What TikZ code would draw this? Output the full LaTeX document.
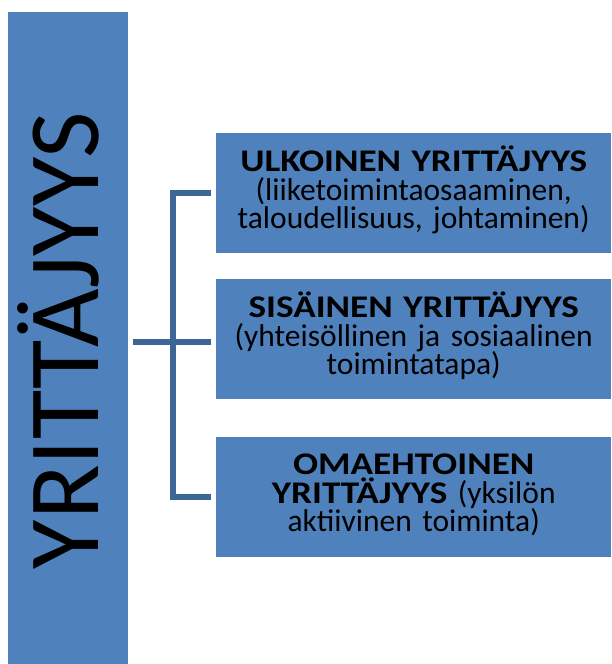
\documentclass[tikz,border=0pt]{standalone}
\usepackage{fontspec}
\setmainfont{Carlito}[BoldFeatures={FakeStretch=1.18}]
\definecolor{boxblue}{HTML}{4F81BD}
\definecolor{linkblue}{HTML}{3D6696}
\begin{document}
\begin{tikzpicture}[x=1pt,y=-1pt,
  titlebar/.style={fill=boxblue, draw=none, inner sep=0pt},
  itembox/.style={fill=boxblue, draw=none, inner sep=0pt,
    minimum width=395pt, minimum height=120pt},
  itemtext/.style={inner sep=0pt, align=center, text width=390pt,
    font=\fontsize{31.5}{28.5}\selectfont},
  conn/.style={draw=linkblue, line width=6pt}]
\useasboundingbox (0,0) rectangle (612,664);

% tall title bar on the left
\node[titlebar, minimum width=120pt, minimum height=652pt, anchor=north west] (main) at (8,12) {};
\node[rotate=90, font=\fontsize{101}{101}\selectfont, anchor=base] (title) at (98,340.5) {YRITTÄJYYS};

% three item boxes
\node[itembox, anchor=north west] (b1) at (216,133) {};
\node[itembox, anchor=north west] (b2) at (216,279) {};
\node[itembox, anchor=north west] (b3) at (216,437) {};

% box texts
\node[itemtext] (t1) at ([yshift=3pt]b1.center)
  {\textbf{ULKOINEN YRITTÄJYYS}\\(liiketoimintaosaaminen,\\taloudellisuus, johtaminen)};
\node[itemtext] (t2) at ([yshift=3pt]b2.center)
  {\textbf{SISÄINEN YRITTÄJYYS}\\(yhteisöllinen ja sosiaalinen\\toimintatapa)};
\node[itemtext] (t3) at ([yshift=2pt]b3.center)
  {\textbf{OMAEHTOINEN}\\\textbf{YRITTÄJYYS} (yksilön\\aktiivinen toiminta)};

% bracket connector
\coordinate (spine) at (173,0);
\coordinate (mid) at (0,342);
\draw[conn] (main.east |- mid) ++(5,0) -- ([xshift=-5pt]b2.west |- mid);
\draw[conn] ([xshift=-5pt]b1.west) -- (b1.west -| spine) -- (spine |- b3.west) -- ([xshift=-5pt]b3.west);
\end{tikzpicture}
\end{document}
